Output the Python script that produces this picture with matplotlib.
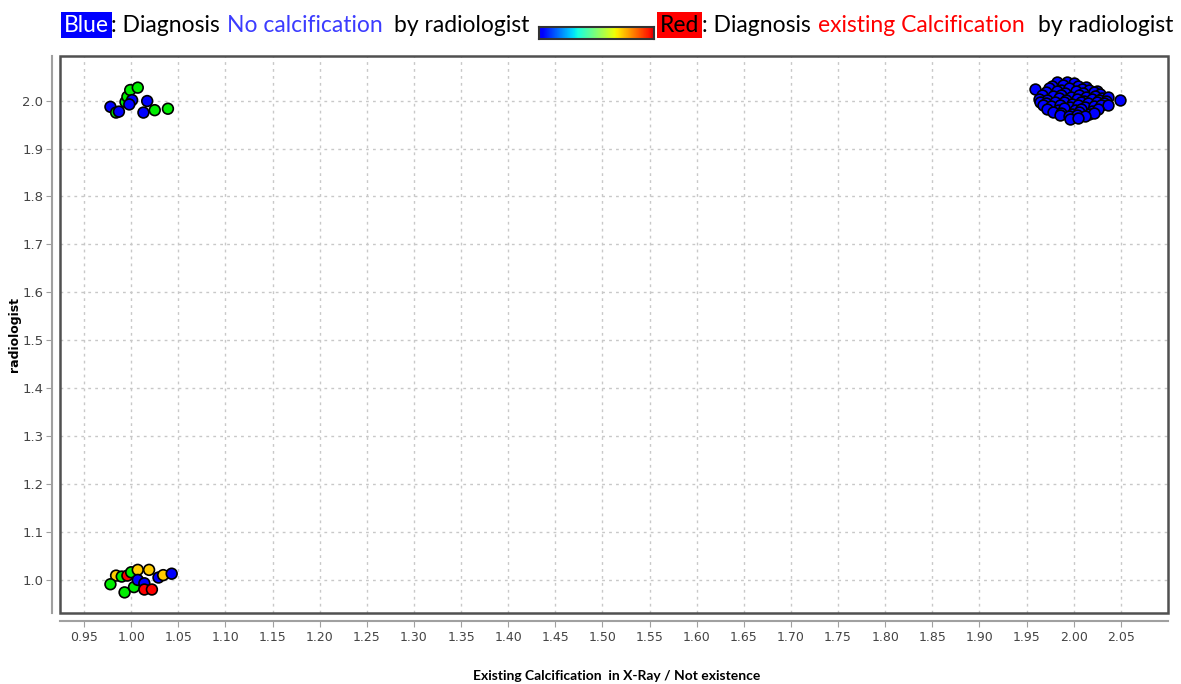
import numpy as np
import matplotlib.pyplot as plt
from matplotlib.patches import Rectangle

# --- data ---
# cluster near (1, 2): no calcification in x-ray, radiologist says 2
tl_x = [0.978, 0.984, 0.987, 0.994, 0.996, 0.999, 1.007, 1.001, 0.998, 1.017, 1.013, 1.025, 1.039]
tl_y = [1.987, 1.975, 1.977, 1.997, 2.008, 2.022, 2.027, 2.001, 1.992, 1.999, 1.975, 1.980, 1.983]
tl_c = ['blue', 'green', 'blue', 'green', 'green', 'green', 'green', 'blue', 'blue', 'blue', 'blue', 'green', 'green']

# cluster near (1, 1)
bl_x = [0.984, 0.978, 0.990, 0.996, 1.000, 1.007, 1.019, 0.993, 1.003, 1.007, 1.014, 1.014, 1.022, 1.029, 1.034, 1.043]
bl_y = [1.009, 0.991, 1.007, 1.009, 1.016, 1.021, 1.021, 0.974, 0.985, 1.000, 0.993, 0.980, 0.980, 1.005, 1.010, 1.013]
bl_c = ['yellow', 'green', 'green', 'red', 'green', 'yellow', 'yellow', 'green', 'green',
        'blue', 'blue', 'red', 'red', 'blue', 'yellow', 'blue']

# cluster near (2, 2): all blue
tr_x = [1.982, 1.993, 2.000,
        1.977, 1.989, 2.004, 2.013,
        1.959, 1.974, 1.986, 1.995, 2.009, 2.016, 2.025,
        1.971, 1.982, 1.991, 2.002, 2.010, 2.021, 2.028,
        1.966, 1.978, 1.987, 1.997, 2.006, 2.013, 2.023, 2.030, 2.036,
        1.963, 1.972, 1.984, 1.992, 2.003, 2.011, 2.019, 2.027, 2.034,
        1.964, 1.971, 1.980, 1.990, 1.998, 2.008, 2.015, 2.025, 2.032, 2.049,
        1.967, 1.976, 1.985, 1.996, 2.004, 2.012, 2.022, 2.029, 2.036,
        1.972, 1.983, 1.990, 2.001, 2.008, 2.019, 2.026,
        1.978, 1.987, 1.998, 2.006, 2.016, 2.021,
        1.985, 1.995, 2.003, 2.012,
        1.996, 2.005]
tr_y = [2.038, 2.039, 2.036,
        2.031, 2.033, 2.030, 2.029,
        2.024, 2.026, 2.023, 2.027, 2.024, 2.022, 2.019,
        2.017, 2.019, 2.016, 2.020, 2.015, 2.018, 2.013,
        2.011, 2.009, 2.012, 2.008, 2.011, 2.007, 2.010, 2.006, 2.008,
        2.004, 2.002, 2.005, 2.001, 2.004, 2.000, 2.003, 2.001, 1.999,
        1.997, 1.995, 1.998, 1.996, 1.993, 1.997, 1.995, 1.998, 1.994, 2.001,
        1.990, 1.988, 1.991, 1.987, 1.990, 1.986, 1.989, 1.991, 1.990,
        1.983, 1.981, 1.984, 1.980, 1.983, 1.979, 1.982,
        1.976, 1.974, 1.973, 1.976, 1.972, 1.975,
        1.969, 1.967, 1.969, 1.968,
        1.962, 1.963]

x_ticks = [0.95 + 0.05 * i for i in range(23)]
y_ticks = [1.0 + 0.1 * i for i in range(11)]

palette = {'blue': '#0000ff', 'green': '#00ee00', 'yellow': '#ffcc00', 'red': '#ff0000'}

W, H = 1181, 684
fig = plt.figure(figsize=(W / 100, H / 100), dpi=100)
ax = fig.add_axes([60 / W, 1 - 613 / H, (1168 - 60) / W, (613 - 56) / H])

ax.set_xlim(0.9245, 2.1)
ax.set_ylim(0.931, 2.093)

ax.set_xticks(x_ticks)
ax.set_xticklabels([f'{v:.2f}' for v in x_ticks])
ax.set_yticks(y_ticks)
ax.set_yticklabels([f'{v:.1f}' for v in y_ticks])
ax.grid(True, color='#c8c8c8', linestyle=(0, (2, 3)), linewidth=1)
ax.set_axisbelow(True)

# marker style
mk = dict(s=60, edgecolors='black', linewidths=1.2, zorder=3)
ax.scatter(tr_x, tr_y, c='#0000ff', **mk)
ax.scatter(tl_x, tl_y, c=[palette[c] for c in tl_c], **mk)
ax.scatter(bl_x, bl_y, c=[palette[c] for c in bl_c], **mk)

# offset axis lines (java chart look) + dark plot frame
for side in ['top', 'right']:
    ax.spines[side].set_visible(False)
for side in ['left', 'bottom']:
    ax.spines[side].set_position(('outward', 6))
    ax.spines[side].set_color('#a0a0a0')
    ax.spines[side].set_linewidth(1.5)
ax.add_patch(Rectangle((0, 0), 1, 1, transform=ax.transAxes, fill=False,
                       edgecolor='#505050', linewidth=1.8, zorder=4, clip_on=False))
ax.tick_params(length=4, color='#a0a0a0', labelsize=9, labelcolor='#444444', pad=3)
ax.tick_params(axis='y', labelsize=9.5, pad=2)

# axis titles placed in figure pixels
fig.text(617 / W, 1 - 676 / H, 'Existing Calcification  in X-Ray / Not existence',
         fontsize=10, fontweight='bold', family='Lato', ha='center', va='center')
fig.text(15 / W, 1 - 335 / H, 'radiologist', fontsize=9, fontweight='bold',
         rotation=90, ha='center', va='center')

# title line: coloured text pieces with a small colour bar between
ty = 1 - 25 / H
tfont = dict(fontsize=16.5, family='Lato', va='center', ha='left')
fig.text(64 / W, ty, 'Blue', color='white',
         bbox=dict(facecolor='#0000ff', edgecolor='none', pad=2), **tfont)
fig.text(111 / W, ty, ': Diagnosis', color='black', **tfont)
fig.text(227 / W, ty, 'No calcification', color='#3c3cff', **tfont)
fig.text(394 / W, ty, 'by radiologist', color='black', **tfont)

fig.text(660 / W, ty, 'Red', color='black',
         bbox=dict(facecolor='#ff0000', edgecolor='none', pad=2), **tfont)
fig.text(702 / W, ty, ': Diagnosis', color='black', **tfont)
fig.text(818 / W, ty, 'existing Calcification', color='#ff0000', **tfont)
fig.text(1038 / W, ty, 'by radiologist', color='black', **tfont)

cax = fig.add_axes([539 / W, 1 - 39 / H, (654 - 539) / W, 12 / H])
grad = np.linspace(0.1, 0.92, 256).reshape(1, -1)
cax.imshow(grad, aspect='auto', cmap='jet', vmin=0, vmax=1)
cax.set_xticks([])
cax.set_yticks([])
for sp in cax.spines.values():
    sp.set_color('#333333')
    sp.set_linewidth(1.5)

plt.savefig('out.png', dpi=100)
